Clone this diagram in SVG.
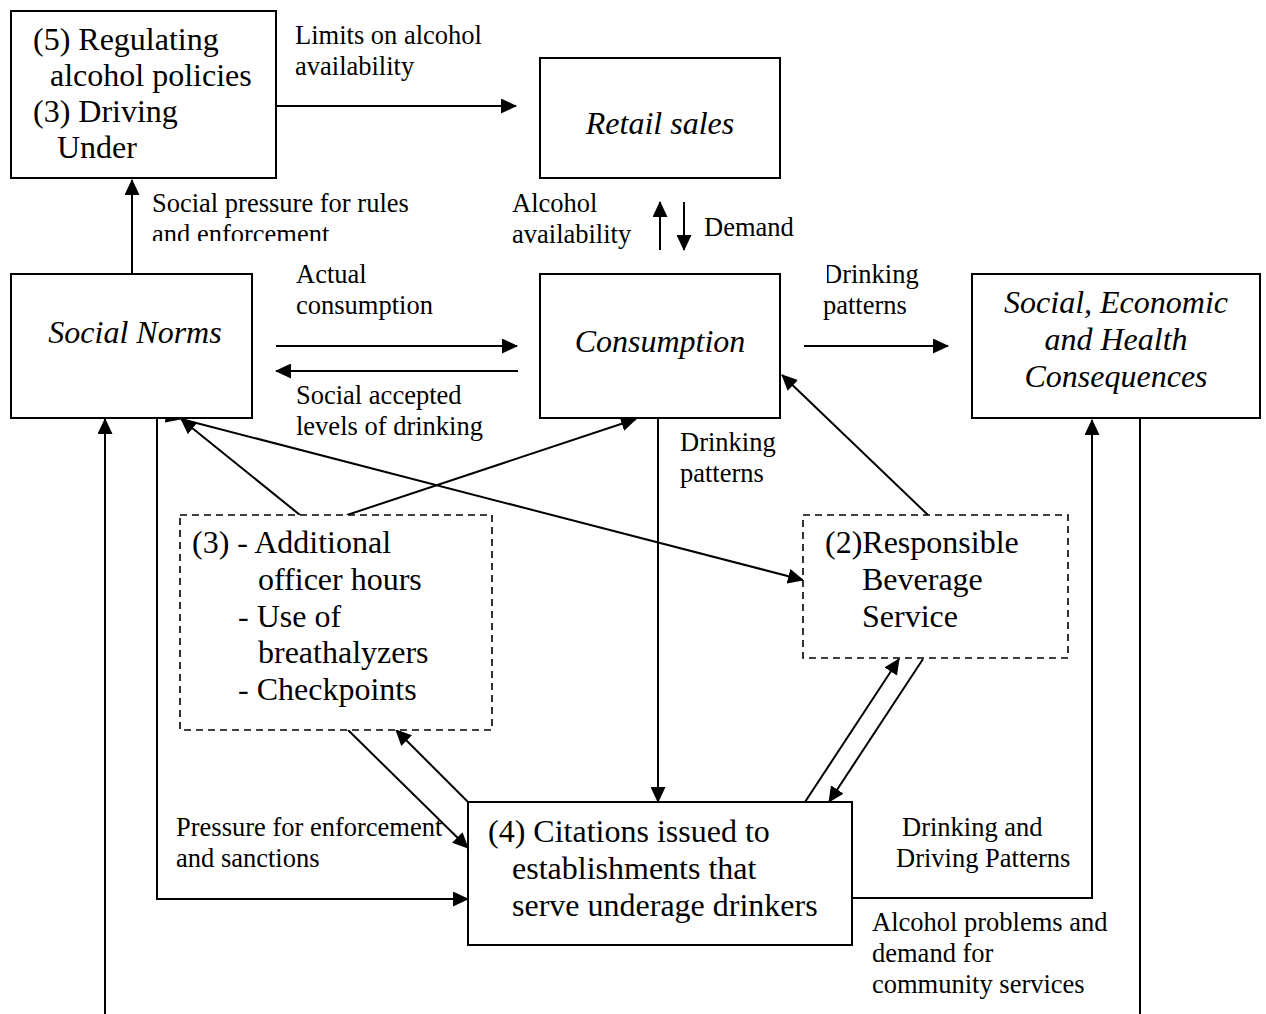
<svg xmlns="http://www.w3.org/2000/svg" width="1266" height="1014" viewBox="0 0 1266 1014">
<style>
.box{fill:#fff;stroke:#000;stroke-width:2}
.dash{fill:#fff;stroke:#000;stroke-width:1.6;stroke-dasharray:7,5}
.n{font-family:"Liberation Serif",serif;font-size:32px;fill:#000}
.i{font-style:italic}
.l{font-family:"Liberation Serif",serif;font-size:26.5px;fill:#000}
.c{fill:none;stroke:#000;stroke-width:2}
</style>
<defs>
<marker id="ah" viewBox="0 0 16 15" refX="15" refY="7.5" markerWidth="16" markerHeight="15" markerUnits="userSpaceOnUse" orient="auto"><path d="M0,0L16,7.5L0,15z" fill="#000"/></marker>
<clipPath id="clipEnf"><rect x="140" y="180" width="300" height="61"/></clipPath>
<clipPath id="clipDr"><rect x="827" y="250" width="150" height="80"/></clipPath>
</defs>
<g id="connectors">
<line class="c" x1="276" y1="106" x2="516" y2="106" marker-end="url(#ah)"/>
<line class="c" x1="132" y1="274" x2="132" y2="180" marker-end="url(#ah)"/>
<line class="c" x1="660" y1="250" x2="660" y2="202" marker-end="url(#ah)"/>
<line class="c" x1="684" y1="202" x2="684" y2="250" marker-end="url(#ah)"/>
<line class="c" x1="276" y1="346" x2="517" y2="346" marker-end="url(#ah)"/>
<line class="c" x1="518" y1="371" x2="276" y2="371" marker-end="url(#ah)"/>
<line class="c" x1="804" y1="346" x2="948" y2="346" marker-end="url(#ah)"/>
<line class="c" x1="658" y1="418" x2="658" y2="802" marker-end="url(#ah)"/>
<line class="c" x1="300" y1="515" x2="181" y2="419" marker-end="url(#ah)"/>
<line class="c" x1="347" y1="515" x2="636" y2="419" marker-end="url(#ah)"/>
<line class="c" x1="181" y1="419" x2="803" y2="580" marker-start="url(#ah)" marker-end="url(#ah)"/>
<line class="c" x1="928" y1="515" x2="782" y2="375" marker-end="url(#ah)"/>
<line class="c" x1="348" y1="730" x2="468" y2="848" marker-end="url(#ah)"/>
<line class="c" x1="468" y1="802" x2="396" y2="730" marker-end="url(#ah)"/>
<line class="c" x1="805" y1="802" x2="899" y2="659" marker-end="url(#ah)"/>
<line class="c" x1="923" y1="659" x2="829" y2="802" marker-end="url(#ah)"/>
<polyline class="c" points="157,418 157,899 468,899" marker-end="url(#ah)"/>
<line class="c" x1="105" y1="1014" x2="105" y2="419" marker-end="url(#ah)"/>
<polyline class="c" points="852,898 1092,898 1092,420" marker-end="url(#ah)"/>
<line class="c" x1="1140" y1="418" x2="1140" y2="1014"/>
</g>
<g id="labels">
<text class="l" x="295" y="44">Limits on alcohol</text>
<text class="l" x="295" y="75">availability</text>
<text class="l" x="152" y="212">Social pressure for rules</text>
<text class="l" x="152" y="243" clip-path="url(#clipEnf)">and enforcement</text>
<text class="l" x="512" y="212">Alcohol</text>
<text class="l" x="512" y="243">availability</text>
<text class="l" x="704" y="236">Demand</text>
<text class="l" x="296" y="283">Actual</text>
<text class="l" x="296" y="314">consumption</text>
<text class="l" x="296" y="404">Social accepted</text>
<text class="l" x="296" y="435">levels of drinking</text>
<text class="l" x="823" y="283" clip-path="url(#clipDr)">Drinking</text>
<text class="l" x="823" y="314">patterns</text>
<text class="l" x="680" y="451">Drinking</text>
<text class="l" x="680" y="482">patterns</text>
<text class="l" x="176" y="836">Pressure for enforcement</text>
<text class="l" x="176" y="867">and sanctions</text>
<text class="l" x="902" y="836">Drinking and</text>
<text class="l" x="896" y="867">Driving Patterns</text>
<text class="l" x="872" y="931">Alcohol problems and</text>
<text class="l" x="872" y="962">demand for</text>
<text class="l" x="872" y="993">community services</text>
</g>
<g id="node-policies">
<rect class="box" x="11" y="11" width="265" height="167"/>
<text class="n" x="33" y="50">(5) Regulating</text>
<text class="n" x="50" y="86">alcohol policies</text>
<text class="n" x="33" y="122">(3) Driving</text>
<text class="n" x="57" y="158">Under</text>
</g>
<g id="node-retail">
<rect class="box" x="540" y="58" width="240" height="120"/>
<text class="n i" x="660" y="134" text-anchor="middle">Retail sales</text>
</g>
<g id="node-norms">
<rect class="box" x="11" y="274" width="241" height="144"/>
<text class="n i" x="135" y="343" text-anchor="middle">Social Norms</text>
</g>
<g id="node-consumption">
<rect class="box" x="540" y="274" width="240" height="144"/>
<text class="n i" x="660" y="352" text-anchor="middle">Consumption</text>
</g>
<g id="node-consequences">
<rect class="box" x="972" y="274" width="288" height="144"/>
<text class="n i" x="1116" y="313" text-anchor="middle">Social, Economic</text>
<text class="n i" x="1116" y="350" text-anchor="middle">and Health</text>
<text class="n i" x="1116" y="387" text-anchor="middle">Consequences</text>
</g>
<g id="node-enforcement">
<rect class="dash" x="180" y="515" width="312" height="215"/>
<text class="n" x="192" y="553">(3) - Additional</text>
<text class="n" x="258" y="590">officer hours</text>
<text class="n" x="238" y="627">- Use of</text>
<text class="n" x="258" y="663">breathalyzers</text>
<text class="n" x="238" y="700">- Checkpoints</text>
</g>
<g id="node-rbs">
<rect class="dash" x="803" y="515" width="265" height="143"/>
<text class="n" x="825" y="553">(2)Responsible</text>
<text class="n" x="862" y="590">Beverage</text>
<text class="n" x="862" y="627">Service</text>
</g>
<g id="node-citations">
<rect class="box" x="468" y="802" width="384" height="143"/>
<text class="n" x="488" y="842">(4) Citations issued to</text>
<text class="n" x="512" y="879">establishments that</text>
<text class="n" x="512" y="916">serve underage drinkers</text>
</g>
</svg>
